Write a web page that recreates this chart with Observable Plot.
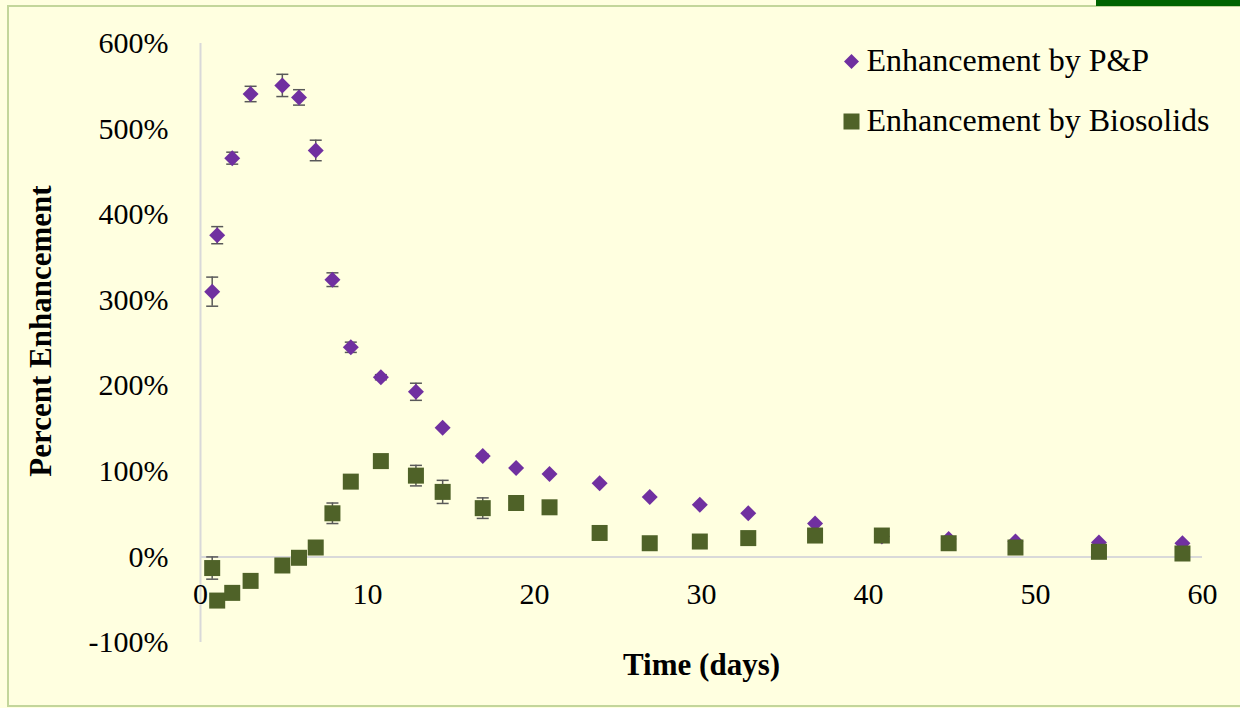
<!DOCTYPE html>
<html>
<head>
<meta charset="utf-8">
<script src="https://cdn.jsdelivr.net/npm/d3@7"></script>
<script src="https://cdn.jsdelivr.net/npm/@observablehq/plot@0.6"></script>
<style>
  html, body { margin: 0; padding: 0; background: #FFFFE0; width: 1240px; height: 708px; overflow: hidden; }
  #frame { position: absolute; left: 7px; top: 5px; width: 1300px; height: 698px; border: 2px solid #C3D69B; }
  #cornerBar { position: absolute; left: 1096px; top: 0; width: 144px; height: 6px; background: #006400; }
  #chart { position: absolute; left: 0; top: 0; }
</style>
</head>
<body>
<div id="frame"></div>
<div id="cornerBar"></div>
<div id="chart"></div>
<script>
// ---- data ----
const days = [0.7, 1.0, 1.9, 3.0, 4.9, 5.9, 6.9, 7.9, 9.0, 10.8, 12.9, 14.5, 16.9, 18.9, 20.9, 23.9, 26.9, 29.9, 32.8, 36.8, 40.8, 44.8, 48.8, 53.8, 58.8];
const ppValues = [310, 376, 466, 541, 551, 537, 475, 324, 245, 210, 193, 151, 118, 104, 97, 86, 70, 61, 51, 39, 24, 21, 18, 17, 16];
const ppErrors = [17, 10, 7, 9, 13, 9, 12, 8, 6, 3, 10, 0, 2, 0, 0, 0, 0, 0, 0, 0, 0, 0, 0, 0, 0];
const bioValues = [-13, -51, -42, -28, -10, -1, 11, 51, 88, 112, 95, 76, 57, 63, 58, 28, 16, 18, 22, 25, 25, 16, 11, 6, 4];
const bioErrors = [13, 0, 0, 0, 0, 0, 0, 12, 0, 0, 12, 13.5, 12, 0, 0, 0, 0, 0, 0, 0, 0, 0, 0, 0, 0];
const seriesNames = ["Enhancement by P&P", "Enhancement by Biosolids"];
const xTicks = [0, 10, 20, 30, 40, 50, 60];
const yTicks = [-100, 0, 100, 200, 300, 400, 500, 600];
const xLabel = "Time (days)";
const yLabel = "Percent Enhancement";

// ---- build table ----
const rows = days.map((d, i) => ({day: d, pp: ppValues[i], ppErr: ppErrors[i], bio: bioValues[i], bioErr: bioErrors[i]}));
const errs = [
  ...rows.filter(r => r.ppErr > 0).map(r => ({day: r.day, lo: r.pp - r.ppErr, hi: r.pp + r.ppErr})),
  ...rows.filter(r => r.bioErr > 0).map(r => ({day: r.day, lo: r.bio - r.bioErr, hi: r.bio + r.bioErr}))
];

const purple = "#7030A0";
const green = "#4F6228";
const errColor = "#595959";
const axisGray = "#D9D9D9";
const font = "'Liberation Serif', 'Times New Roman', serif";

const cap = { draw(ctx) { ctx.moveTo(-6, 0); ctx.lineTo(6, 0); } };

const chart = Plot.plot({
  width: 1240,
  height: 708,
  marginLeft: 200,
  marginRight: 38,
  marginTop: 43,
  marginBottom: 66,
  x: {domain: [0, 60]},
  y: {domain: [-100, 600]},
  style: {background: "transparent", fontFamily: font, fontSize: "30px", color: "#000"},
  marks: [
    Plot.ruleX([0], {stroke: axisGray, strokeWidth: 2}),
    Plot.ruleY([0], {stroke: axisGray, strokeWidth: 2}),
    Plot.axisY({ticks: yTicks, tickSize: 0, tickPadding: 32, tickFormat: d => d + "%", label: null, fontSize: 30}),
    Plot.axisX({ticks: xTicks, tickSize: 0, tickPadding: 0, lineAnchor: "middle", dy: -48, label: null, fontSize: 30}),
    Plot.text([xLabel], {frameAnchor: "bottom", dy: 23, lineAnchor: "middle", fontWeight: "bold", fontSize: 31}),
    Plot.text([yLabel], {frameAnchor: "left", dx: -159, dy: -12, rotate: -90, textAnchor: "middle", lineAnchor: "middle", fontWeight: "bold", fontSize: 31}),
    // error bars
    Plot.ruleX(errs, {x: "day", y1: "lo", y2: "hi", stroke: errColor, strokeWidth: 1.5}),
    Plot.dot(errs, {x: "day", y: "lo", symbol: cap, stroke: errColor, strokeWidth: 1.5, fill: "none"}),
    Plot.dot(errs, {x: "day", y: "hi", symbol: cap, stroke: errColor, strokeWidth: 1.5, fill: "none"}),
    // series
    Plot.dot(rows, {x: "day", y: "pp", symbol: "diamond2", r: 7.2, fill: purple, stroke: "none"}),
    Plot.dot(rows, {x: "day", y: "bio", symbol: "square", r: 9.03, fill: green, stroke: "none"}),
    // legend
    Plot.dot([seriesNames[0]], {frameAnchor: "top-left", dx: 651, dy: 18, symbol: "diamond2", r: 6.76, fill: purple, stroke: "none"}),
    Plot.dot([seriesNames[1]], {frameAnchor: "top-left", dx: 651, dy: 78, symbol: "square", r: 9.03, fill: green, stroke: "none"}),
    Plot.text([seriesNames[0]], {frameAnchor: "top-left", dx: 666, dy: 17, textAnchor: "start", lineAnchor: "middle", fontSize: 32}),
    Plot.text([seriesNames[1]], {frameAnchor: "top-left", dx: 666, dy: 77, textAnchor: "start", lineAnchor: "middle", fontSize: 32})
  ]
});
document.getElementById("chart").appendChild(chart);
</script>
</body>
</html>
